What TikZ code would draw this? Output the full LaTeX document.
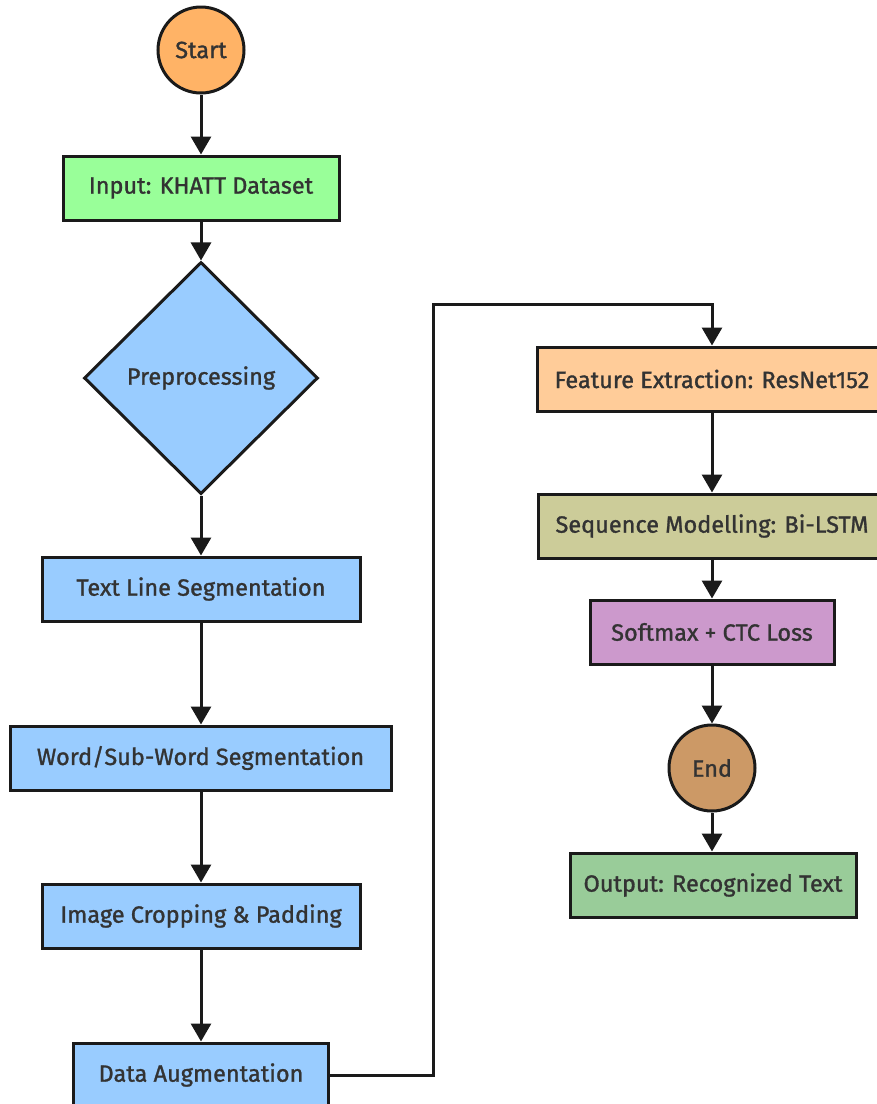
\documentclass[tikz,border=0pt]{standalone}
\usepackage{fontspec}
\setmainfont{Fira Sans}
\newfontfamily\nodefont[FakeBold=1.2]{Fira Sans}
\usetikzlibrary{arrows.meta,shapes.geometric}
\definecolor{txt}{HTML}{333333}
\definecolor{edge}{HTML}{1A1A1A}
\definecolor{cstart}{HTML}{FFB366}
\definecolor{cinput}{HTML}{99FF99}
\definecolor{cblue}{HTML}{99CCFF}
\definecolor{cfeat}{HTML}{FFCC99}
\definecolor{cseq}{HTML}{CCCC99}
\definecolor{csoft}{HTML}{CC99CC}
\definecolor{cend}{HTML}{CC9966}
\definecolor{cout}{HTML}{99CC99}
\tikzset{
  base/.style={draw=edge, line width=3pt, text=txt, font=\nodefont\fontsize{23.5}{26}\selectfont, inner sep=0pt},
  boxnode/.style={base, rectangle, minimum height=64pt},
  circnode/.style={base, circle, minimum size=86pt},
  decision/.style={base, diamond, minimum width=234pt, minimum height=232pt, fill=cblue},
  flow/.style={draw=edge, line width=3pt, -{Triangle[length=18pt,width=20pt]}}
}
\begin{document}
\begin{tikzpicture}[x=1pt,y=-1pt]
\useasboundingbox (0,0) rectangle (877,1104);
\clip (0,0) rectangle (877,1104);
\node[circnode, fill=cstart] (start) at (201,50) {Start};
\node[boxnode, fill=cinput, minimum width=276pt] (input) at (201,188) {Input: KHATT Dataset};
\node[decision] (pre) at (201,378) {Preprocessing};
\node[boxnode, fill=cblue, minimum width=318pt] (tls) at (201,589) {Text Line Segmentation};
\node[boxnode, fill=cblue, minimum width=381pt] (wss) at (200.5,758) {Word/Sub-Word Segmentation};
\node[boxnode, fill=cblue, minimum width=318pt] (icp) at (201,916) {Image Cropping \& Padding};
\node[boxnode, fill=cblue, minimum width=255pt] (aug) at (201,1075) {Data Augmentation};
\node[boxnode, fill=cfeat, minimum width=350pt] (feat) at (712,379) {Feature Extraction: ResNet152};
\node[boxnode, fill=cseq, minimum width=348pt] (seq) at (712,526) {Sequence Modelling: Bi-LSTM};
\node[boxnode, fill=csoft, minimum width=244pt] (soft) at (712,632) {Softmax + CTC Loss};
\node[circnode, fill=cend] (end) at (712,768) {End};
\node[boxnode, fill=cout, minimum width=286pt] (out) at (713,885) {Output: Recognized Text};
\coordinate (bendA) at (433,1075);
\coordinate (bendB) at (433,304);
\coordinate (bendC) at (712,304);
\draw[flow] (start) -- (input);
\draw[flow] (input) -- (pre);
\draw[flow] (pre) -- (tls);
\draw[flow] (tls) -- (wss.north -| tls);
\draw[flow] (wss.south -| icp) -- (icp);
\draw[flow] (icp) -- (aug);
\draw[flow] (aug.east) -- (bendA) -- (bendB) -- (bendC) -- (feat.north -| bendC);
\draw[flow] (feat.south -| soft) -- (seq.north -| soft);
\draw[flow] (seq.south -| soft) -- (soft);
\draw[flow] (soft) -- (end);
\draw[flow] (end) -- (out.north -| end);
\end{tikzpicture}
\end{document}
